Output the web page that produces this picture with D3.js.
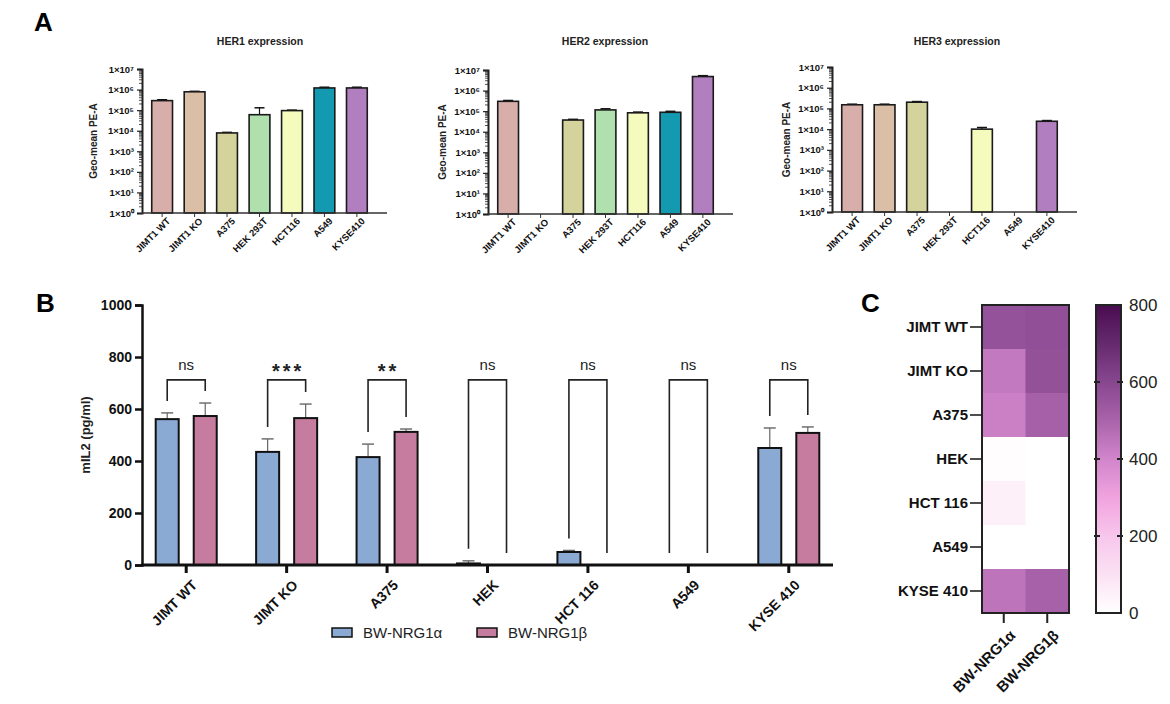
<!DOCTYPE html>
<html>
<head>
<meta charset="utf-8">
<script src="https://cdn.jsdelivr.net/npm/d3@7"></script>
<style>
  body { margin: 0; background: #fff; }
  svg { font-family: "Liberation Sans", Arial, sans-serif; }
</style>
</head>
<body>
<div id="fig"></div>
<script>
// ---- panel A data (geo-mean PE-A, log scale) ----
var cellLines = ["JIMT1 WT", "JIMT1 KO", "A375", "HEK 293T", "HCT116", "A549", "KYSE410"];
var cellColors = ["#d8aeab", "#dbbea6", "#d4d39b", "#b0e0ae", "#f4fbbd", "#1399b0", "#b17fc0"];
var her1Mean = [2.9e5, 7.8e5, 7.8e3, 6.0e4, 9.5e4, 1.2e6, 1.2e6];
var her1Upper = [3.2e5, 8.2e5, 8.3e3, 1.3e5, 1.0e5, 1.3e6, 1.3e6];
var her2Mean = [3.0e5, null, 3.7e4, 1.15e5, 8.3e4, 8.8e4, 4.8e6];
var her2Upper = [3.3e5, null, 4.0e4, 1.3e5, 9.0e4, 9.8e4, 5.3e6];
var her3Mean = [1.5e5, 1.5e5, 2.0e5, null, 1.0e4, null, 2.4e4];
var her3Upper = [1.6e5, 1.6e5, 2.15e5, null, 1.2e4, null, 2.6e4];
var logTicks = [1, 10, 100, 1e3, 1e4, 1e5, 1e6, 1e7];
var supers = ["⁰", "¹", "²", "³", "⁴", "⁵", "⁶", "⁷"];

// ---- panel B data (mIL2 pg/ml) ----
var groups = ["JIMT WT", "JIMT KO", "A375", "HEK", "HCT 116", "A549", "KYSE 410"];
var series = ["BW-NRG1α", "BW-NRG1β"];
var seriesColors = ["#8aaad4", "#c57c9e"];
var alphaMean = [561, 435, 415, 6, 50, 0, 450];
var alphaSd = [24, 50, 50, 10, 6, 0, 77];
var betaMean = [573, 565, 512, 0, 0, 0, 508];
var betaSd = [50, 54, 11, 0, 0, 0, 23];
var sigLabels = ["ns", "***", "**", "ns", "ns", "ns", "ns"];
var bTicks = [0, 200, 400, 600, 800, 1000];

// ---- panel C colour scale ----
var colorTicks = [0, 200, 400, 600, 800];
var colorStops = [0, 100, 200, 290, 400, 500, 600, 700, 800];
var colorValues = ["#ffffff", "#fbe1f3", "#f7c6ec", "#f3a6e0", "#d185cb", "#a963aa", "#87478f", "#65296d", "#4a0c50"];

var svg = d3.select("#fig").append("svg")
    .attr("width", 1170)
    .attr("height", 704);

svg.append("rect").attr("width", 1170).attr("height", 704).attr("fill", "#fff");

// panel letters
svg.append("text").attr("x", 34).attr("y", 31).text("A")
    .attr("font-size", 26).attr("font-weight", "bold");
svg.append("text").attr("x", 36).attr("y", 312).text("B")
    .attr("font-size", 26).attr("font-weight", "bold");
svg.append("text").attr("x", 861).attr("y", 312).text("C")
    .attr("font-size", 26).attr("font-weight", "bold");

/*
 *  Panel A - one small log bar chart per receptor
 */
function drawLogPanel(cfg) {
    var g = svg.append("g");

    var y = d3.scaleLog().domain([1, 1e7]).range([cfg.bottom, cfg.top]);
    var x = d3.scaleBand().domain(cellLines)
        .range([cfg.left, cfg.left + 235])
        .paddingInner(0.36).paddingOuter(0.3);

    // title
    g.append("text").attr("x", cfg.titleX).attr("y", 45)
        .attr("text-anchor", "middle").attr("font-size", 10.5).attr("font-weight", "bold")
        .attr("fill", "#222").text(cfg.title);

    // bars
    cellLines.forEach(function(c, i) {
        if (cfg.mean[i] == null) return;
        var x0 = x(c), bw = x.bandwidth();
        var top = y(cfg.mean[i]);
        var errTop = y(cfg.upper[i]);
        g.append("line").attr("x1", x0 + bw / 2).attr("x2", x0 + bw / 2)
            .attr("y1", top).attr("y2", errTop).attr("stroke", "#111").attr("stroke-width", 1.2);
        g.append("line").attr("x1", x0 + bw / 2 - 5).attr("x2", x0 + bw / 2 + 5)
            .attr("y1", errTop).attr("y2", errTop).attr("stroke", "#111").attr("stroke-width", 1.5);
        g.append("rect").attr("x", x0).attr("y", top)
            .attr("width", bw).attr("height", cfg.bottom - top)
            .attr("fill", cellColors[i]).attr("stroke", "#1a1a1a").attr("stroke-width", 1.6);
    });

    // minor log ticks
    for (var k = 0; k < 7; k++) {
        for (var m = 2; m < 10; m++) {
            var yy = y(m * Math.pow(10, k));
            g.append("line").attr("x1", cfg.left - 3).attr("x2", cfg.left)
                .attr("y1", yy).attr("y2", yy).attr("stroke", "#222").attr("stroke-width", 0.8);
        }
    }

    // y axis
    var yAxis = d3.axisLeft(y).tickValues(logTicks).tickSize(5)
        .tickFormat(function(d, i) { return "1×10" + supers[i]; });
    var ya = g.append("g").attr("transform", "translate(" + cfg.left + ",0)").call(yAxis);
    ya.select(".domain").attr("stroke", "#222").attr("stroke-width", 2);
    ya.selectAll(".tick line").attr("stroke", "#222").attr("stroke-width", 1.2);
    ya.selectAll(".tick text").attr("font-size", 9.5).attr("font-weight", "bold")
        .attr("fill", "#111").attr("font-family", "Liberation Sans, Arial, sans-serif");

    // x axis
    var xAxis = d3.axisBottom(x).tickSize(4).tickSizeOuter(0);
    var xa = g.append("g").attr("transform", "translate(0," + cfg.bottom + ")").call(xAxis);
    xa.select(".domain").remove();
    g.append("line").attr("x1", cfg.left).attr("x2", cfg.left + 245)
        .attr("y1", cfg.bottom).attr("y2", cfg.bottom)
        .attr("stroke", "#333").attr("stroke-width", 1.4);
    xa.selectAll(".tick line").attr("stroke", "#333");
    xa.selectAll(".tick text")
        .attr("font-size", 9.5).attr("font-weight", "bold").attr("fill", "#111")
        .attr("font-family", "Liberation Sans, Arial, sans-serif")
        .attr("text-anchor", "end")
        .attr("transform", "translate(4,4) rotate(-45)")
        .attr("dy", "0.7em").attr("y", 0);

    // y title
    g.append("text")
        .attr("transform", "translate(" + cfg.yTitleX + "," + (cfg.top + cfg.bottom) / 2 + ") rotate(-90)")
        .attr("text-anchor", "middle").attr("font-size", 10).attr("font-weight", "bold")
        .attr("fill", "#222").text("Geo-mean PE-A");
}

drawLogPanel({title: "HER1 expression", titleX: 260, left: 142, top: 69, bottom: 213, yTitleX: 97,
    mean: her1Mean, upper: her1Upper});
drawLogPanel({title: "HER2 expression", titleX: 605, left: 488, top: 70, bottom: 214, yTitleX: 446,
    mean: her2Mean, upper: her2Upper});
drawLogPanel({title: "HER3 expression", titleX: 957, left: 832, top: 67, bottom: 212, yTitleX: 790,
    mean: her3Mean, upper: her3Upper});

/*
 *  Panel B - grouped bars with brackets
 */
var bLeft = 142, bTop = 305, bBottom = 565;
var yB = d3.scaleLinear().domain([0, 1000]).range([bBottom, bTop]);
var xB = d3.scaleBand().domain(groups).range([136, 839]);
var xSub = d3.scaleBand().domain(series).range([-38, 38]).paddingInner(0.395).paddingOuter(0.197);
var means = [alphaMean, betaMean];
var sds = [alphaSd, betaSd];
var gB = svg.append("g");

groups.forEach(function(gname, i) {
    var cx = xB(gname) + xB.bandwidth() / 2;
    series.forEach(function(s, j) {
        var v = means[j][i];
        if (v <= 0) return;
        var x0 = cx + xSub(s);
        var bw = xSub.bandwidth();
        var eTop = yB(v + sds[j][i]);
        gB.append("line").attr("x1", x0 + bw / 2).attr("x2", x0 + bw / 2)
            .attr("y1", yB(v)).attr("y2", eTop).attr("stroke", "#666").attr("stroke-width", 1.2);
        gB.append("line").attr("x1", x0 + bw / 2 - 6).attr("x2", x0 + bw / 2 + 6)
            .attr("y1", eTop).attr("y2", eTop).attr("stroke", "#666").attr("stroke-width", 1.4);
        gB.append("rect").attr("x", x0).attr("y", yB(v))
            .attr("width", bw).attr("height", bBottom - yB(v))
            .attr("fill", seriesColors[j]).attr("stroke", "#111").attr("stroke-width", 2);
    });

    // significance bracket
    var lx = cx + xSub(series[0]) + xSub.bandwidth() / 2;
    var rx = cx + xSub(series[1]) + xSub.bandwidth() / 2;
    var by = yB(712);
    var ly = yB(alphaMean[i] + alphaSd[i]) - 12;
    var ry = yB(betaMean[i] + betaSd[i]) - 12;
    gB.append("path")
        .attr("d", "M" + lx + "," + ly + "V" + by + "H" + rx + "V" + ry)
        .attr("fill", "none").attr("stroke", "#222").attr("stroke-width", 1.6);
    var isStar = sigLabels[i].indexOf("*") >= 0;
    gB.append("text").attr("x", cx + (isStar ? 1.5 : 0)).attr("y", isStar ? 378 : 370)
        .attr("text-anchor", "middle")
        .attr("font-size", isStar ? 20 : 15)
        .attr("font-weight", isStar ? "bold" : "normal")
        .attr("letter-spacing", isStar ? 3 : 0)
        .attr("fill", "#222")
        .text(sigLabels[i]);
});

// y axis B
var yAxisB = d3.axisLeft(yB).tickValues(bTicks).tickSize(7).tickFormat(d3.format("d"));
var yaB = gB.append("g").attr("transform", "translate(" + bLeft + ",0)").call(yAxisB);
yaB.select(".domain").attr("stroke", "#111").attr("stroke-width", 2.5);
yaB.selectAll(".tick line").attr("stroke", "#111").attr("stroke-width", 2.5);
yaB.selectAll(".tick text").attr("font-size", 14).attr("font-weight", "bold").attr("fill", "#111")
    .attr("font-family", "Liberation Sans, Arial, sans-serif").attr("x", -10);

// x axis B
var xAxisB = d3.axisBottom(xB).tickSize(8).tickSizeOuter(0);
var xaB = gB.append("g").attr("transform", "translate(0," + bBottom + ")").call(xAxisB);
xaB.select(".domain").remove();
xaB.selectAll(".tick line").attr("stroke", "#111").attr("stroke-width", 3);
xaB.selectAll(".tick text")
    .attr("font-size", 14).attr("font-weight", "bold").attr("fill", "#111")
    .attr("font-family", "Liberation Sans, Arial, sans-serif")
    .attr("text-anchor", "end").attr("y", 0).attr("dy", "0.7em")
    .attr("transform", "translate(5,14) rotate(-45)");
gB.append("line").attr("x1", bLeft - 1).attr("x2", 833)
    .attr("y1", bBottom).attr("y2", bBottom).attr("stroke", "#111").attr("stroke-width", 3);

gB.append("text")
    .attr("transform", "translate(90," + (bTop + bBottom) / 2 + ") rotate(-90)")
    .attr("text-anchor", "middle").attr("font-size", 13).attr("font-weight", "bold")
    .attr("fill", "#222").text("mIL2 (pg/ml)");

// legend
var legX = [332, 477];
series.forEach(function(s, j) {
    svg.append("rect").attr("x", legX[j]).attr("y", 628).attr("width", 20).attr("height", 9)
        .attr("fill", seriesColors[j]).attr("stroke", "#111").attr("stroke-width", 1.5);
    svg.append("text").attr("x", legX[j] + 31).attr("y", 638).attr("font-size", 15)
        .attr("fill", "#222").text(s);
});

/*
 *  Panel C - heatmap of the same means
 */
var color = d3.scaleLinear().domain(colorStops).range(colorValues).clamp(true);
var hx = d3.scaleBand().domain(series).range([982, 1069]);
var hy = d3.scaleBand().domain(groups).range([305, 613]);
var gC = svg.append("g");

groups.forEach(function(gname, i) {
    series.forEach(function(s, j) {
        gC.append("rect").attr("x", hx(s)).attr("y", hy(gname))
            .attr("width", hx.bandwidth() + 0.5).attr("height", hy.bandwidth() + 0.5)
            .attr("fill", color(means[j][i]));
    });
});
gC.append("rect").attr("x", 982).attr("y", 305).attr("width", 87).attr("height", 308)
    .attr("fill", "none").attr("stroke", "#222").attr("stroke-width", 2);

var yaC = gC.append("g").attr("transform", "translate(982,0)")
    .call(d3.axisLeft(hy).tickSize(12).tickSizeOuter(0));
yaC.select(".domain").remove();
yaC.selectAll(".tick line").attr("stroke", "#222").attr("stroke-width", 1.6);
yaC.selectAll(".tick text").attr("font-size", 15).attr("font-weight", "bold").attr("fill", "#111")
    .attr("font-family", "Liberation Sans, Arial, sans-serif").attr("x", -14);

var xaC = gC.append("g").attr("transform", "translate(0,613)")
    .call(d3.axisBottom(hx).tickSize(10).tickSizeOuter(0));
xaC.select(".domain").remove();
xaC.selectAll(".tick line").attr("stroke", "#222").attr("stroke-width", 2);
xaC.selectAll(".tick text")
    .attr("font-size", 15).attr("font-weight", "bold").attr("fill", "#111")
    .attr("font-family", "Liberation Sans, Arial, sans-serif")
    .attr("text-anchor", "end").attr("y", 0).attr("dy", "0.7em")
    .attr("transform", "translate(5,16) rotate(-45)");

// colour bar
var cbY = d3.scaleLinear().domain([0, 800]).range([613, 305]);
var grad = svg.append("defs").append("linearGradient").attr("id", "cbar")
    .attr("x1", 0).attr("y1", 1).attr("x2", 0).attr("y2", 0);
d3.range(0, 801, 25).forEach(function(v) {
    grad.append("stop").attr("offset", v / 800).attr("stop-color", color(v));
});
gC.append("rect").attr("x", 1096).attr("y", 305).attr("width", 25).attr("height", 308)
    .attr("fill", "url(#cbar)").attr("stroke", "#222").attr("stroke-width", 2);
colorTicks.forEach(function(v) {
    if (v > 0 && v < 800) {
        gC.append("line").attr("x1", 1094).attr("x2", 1100).attr("y1", cbY(v)).attr("y2", cbY(v))
            .attr("stroke", "#222").attr("stroke-width", 2);
        gC.append("line").attr("x1", 1117).attr("x2", 1123).attr("y1", cbY(v)).attr("y2", cbY(v))
            .attr("stroke", "#222").attr("stroke-width", 2);
    }
    gC.append("text").attr("x", 1129).attr("y", cbY(v)).attr("dy", "0.35em")
        .attr("font-size", 17).attr("fill", "#222").text(v);
});
</script>
</body>
</html>
